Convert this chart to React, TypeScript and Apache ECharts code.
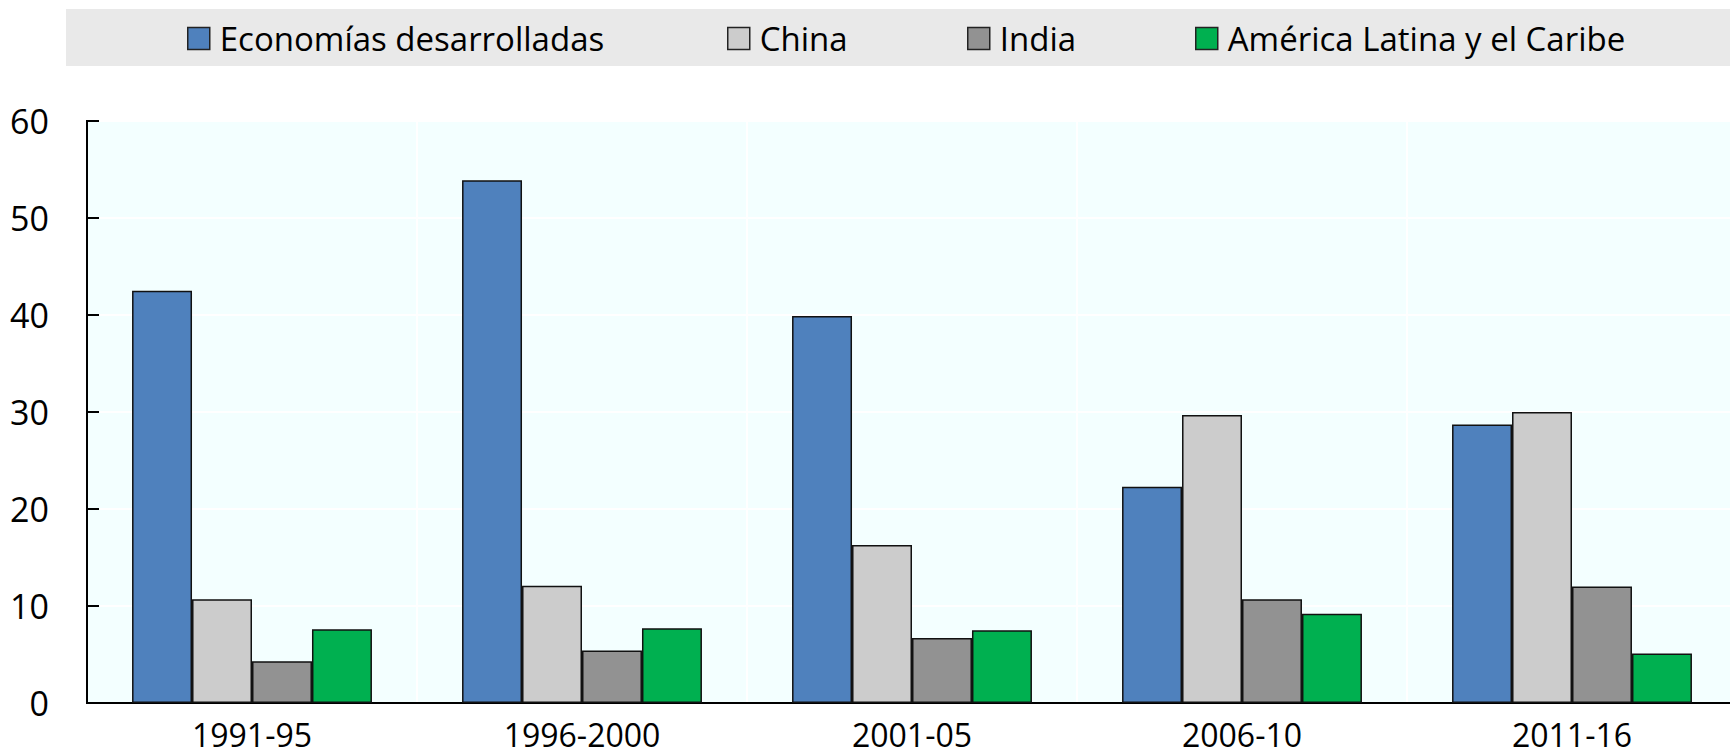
import React, { useEffect, useRef } from "react";
import * as echarts from "echarts";

const categories = ["1991-95", "1996-2000", "2001-05", "2006-10", "2011-16"];
const seriesNames = ["Economías desarrolladas", "China", "India", "América Latina y el Caribe"];
const econValues = [42.5, 53.9, 39.9, 22.3, 28.7];
const chinaValues = [10.7, 12.1, 16.3, 29.7, 30.0];
const indiaValues = [4.3, 5.4, 6.7, 10.7, 12.0];
const latamValues = [7.6, 7.7, 7.5, 9.2, 5.1];
const seriesColors = ["#4F81BD", "#CCCCCC", "#929292", "#00B050"];
const legendLefts = [187, 727, 967, 1195];

const FONT = "Open Sans";

export default function App() {
  const ref = useRef<HTMLDivElement>(null);
  useEffect(() => {
    document.body.style.margin = "0";
    document.body.style.overflow = "hidden";
    if (!ref.current) return;
    const chart = echarts.init(ref.current, undefined, { renderer: "svg" });
    const allValues = [econValues, chinaValues, indiaValues, latamValues];
    const option: any = {
      animation: false,
      backgroundColor: "#FFFFFF",
      textStyle: { fontFamily: FONT },
      graphic: [
        {
          type: "rect",
          shape: { x: 66, y: 9, width: 1680, height: 57 },
          style: { fill: "#E9E9E9" },
          z: -10,
          silent: true,
        },
      ],
      legend: seriesNames.map((n, i) => ({
        data: [n],
        left: legendLefts[i],
        top: 22,
        padding: 0,
        itemWidth: 22,
        itemHeight: 22,
        icon: "rect",
        itemStyle: { borderColor: "#222222", borderWidth: 1.5 },
        textStyle: {
          fontFamily: FONT,
          fontSize: 33,
          color: "#000000",
          padding: [0, 0, 0, 5],
        },
        selectedMode: false,
      })),
      grid: {
        left: 87,
        right: 0,
        top: 121,
        bottom: 52,
        show: true,
        backgroundColor: "#F3FFFF",
        borderColor: "#000000",
        borderWidth: 2,
      },
      xAxis: {
        type: "category",
        data: categories,
        axisLine: { lineStyle: { color: "#000000", width: 2 } },
        axisTick: { inside: true, length: 12, lineStyle: { color: "#000000", width: 2 } },
        axisLabel: { fontFamily: FONT, fontSize: 32, lineHeight: 32, color: "#000000", margin: 15 },
        splitLine: { show: true, lineStyle: { color: "#FFFFFF", width: 2 } },
      },
      yAxis: {
        type: "value",
        min: 0,
        max: 60,
        interval: 10,
        axisLine: { show: true, lineStyle: { color: "#000000", width: 2 } },
        axisTick: { show: true, inside: true, length: 12, lineStyle: { color: "#000000", width: 2 } },
        axisLabel: { fontFamily: FONT, fontSize: 34, color: "#000000", margin: 38 },
        splitLine: { show: true, lineStyle: { color: "#FFFFFF", width: 2 } },
      },
      series: seriesNames.map((n, i) => ({
        name: n,
        type: "bar",
        data: allValues[i],
        barGap: "0%",
        barCategoryGap: "27.3%",
        itemStyle: { color: seriesColors[i], borderColor: "#111111", borderWidth: 1.5 },
      })),
    };
    chart.setOption(option);
    return () => chart.dispose();
  }, []);
  return <div ref={ref} style={{ width: 1737, height: 755 }} />;
}
